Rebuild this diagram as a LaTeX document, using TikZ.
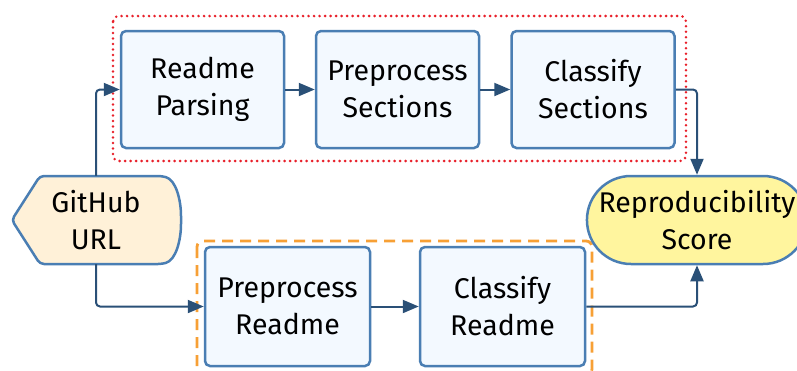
\documentclass[tikz,border=0pt]{standalone}
\usepackage{fontspec}
\setmainfont{Fira Sans}
\usetikzlibrary{arrows.meta,shapes.misc}
\definecolor{boxline}{HTML}{4A7EB3}
\definecolor{boxfill}{HTML}{F3F9FF}
\definecolor{arrowc}{HTML}{2A5077}
\definecolor{ghfill}{HTML}{FFF1D8}
\definecolor{repfill}{HTML}{FFF59E}
\definecolor{redd}{HTML}{E8202A}
\definecolor{orng}{HTML}{F7A035}
\begin{document}
\begin{tikzpicture}[x=1pt,y=-1pt,
  every node/.style={font=\fontsize{28.5}{37}\selectfont, align=center, text=black},
  procbox/.style={draw=boxline, fill=boxfill, line width=2.5pt, rounded corners=5pt, minimum width=163pt, minimum height=117pt, inner sep=0pt},
  conn/.style={draw=arrowc, line width=2pt, rounded corners=4pt, -{Triangle[length=16pt,width=13pt]}},
  grp/.style={line width=2.8pt, rounded corners=6pt}
]
\useasboundingbox (0,0) rectangle (797,370);
% group boxes
\draw[grp, draw=redd, dash pattern=on 0pt off 5.5pt, line cap=round] (113,16) rectangle (686,161);
\draw[grp, draw=orng, dash pattern=on 11pt off 7pt] (197,241) rectangle (592,375);
% nodes
\node[procbox] (rp) at (202.5,89.5) {Readme\\Parsing};
\node[procbox] (ps) at (397.5,89.5) {Preprocess\\Sections};
\node[procbox] (cs) at (593,89.5) {Classify\\Sections};
\node[procbox, minimum width=165pt, minimum height=119pt] (pr) at (287.5,306.5) {Preprocess\\Readme};
\node[procbox, minimum width=165pt, minimum height=119pt] (cr) at (502.5,306.5) {Classify\\Readme};
\node[draw=boxline, fill=repfill, line width=2.5pt, rounded rectangle, minimum width=208pt, minimum height=88pt, inner sep=0pt] (rs) at (697,220) {Reproducibility\\Score};
% GitHub URL display shape
\node[minimum width=168pt, minimum height=88pt, inner sep=0pt] (gh) at (96,220) {};
\draw[draw=boxline, fill=ghfill, line width=2.5pt, rounded corners=4pt]
  (gh.west) -- (40,176) -- (162,176) .. controls (176,180) and (181,200) .. (181,220)
  .. controls (181,240) and (176,260) .. (162,264) -- (40,264) -- cycle;
\node at (gh.center) {GitHub\\URL};
% connectors
\draw[conn] (gh.north) |- (rp.west);
\draw[conn] (gh.south) |- (pr.west);
\draw[conn] (rp.east) -- (ps.west);
\draw[conn] (ps.east) -- (cs.west);
\draw[conn] (pr.east) -- (cr.west);
\draw[conn] (cs.east) -| (rs.north);
\draw[conn] (cr.east) -| (rs.south);
\end{tikzpicture}
\end{document}
